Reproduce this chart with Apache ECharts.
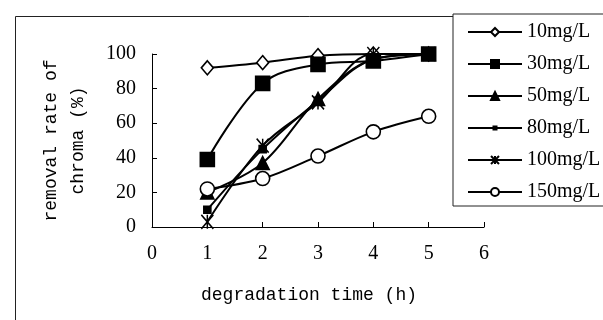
<!DOCTYPE html>
<html>
<head>
<meta charset="utf-8">
<script src="https://cdn.jsdelivr.net/npm/echarts@6/dist/echarts.min.js"></script>
<style>
  html, body { margin: 0; padding: 0; background: #fff; }
  #chart { width: 603px; height: 320px; }
</style>
</head>
<body>
<div id="chart"></div>
<script>
const hours = [1, 2, 3, 4, 5];
const seriesNames = ["10mg/L", "30mg/L", "50mg/L", "80mg/L", "100mg/L", "150mg/L"];
const rate10 = [92, 95, 99, 100, 100];
const rate30 = [39, 83, 94, 96, 100];
const rate50 = [20, 37, 74, 97, 100];
const rate80 = [10, 45, 73, 97, 100];
const rate100 = [3, 47, 72, 100, 100];
const rate150 = [22, 28, 41, 55, 64];

const STAR = "path://M0,0L10,12M10,0L0,12M5,0L5,12";
// legend icon for 80mg/L: line with a small square, sized to itemWidth x itemHeight
const SMALL_SQUARE_ICON = "path://M0,0M54,10M0,4.1h54v1.8h-54zM24.5,2.5h5v5h-5z";
const INK = "#000";

function pairs(values) {
  return hours.map((h, i) => [h, values[i]]);
}

function makeSeries(name, values, symbol, size, filled) {
  return {
    name: name,
    type: "line",
    smooth: 0.35,
    data: pairs(values),
    symbol: symbol,
    symbolSize: size,
    showAllSymbol: true,
    lineStyle: { color: INK, width: 2 },
    itemStyle: {
      color: filled ? INK : "#fff",
      borderColor: INK,
      borderWidth: 1.6,
    },
    emphasis: { disabled: true },
  };
}

const legendData = seriesNames.map((name) =>
  name === "80mg/L"
    ? { name: name, icon: SMALL_SQUARE_ICON, itemStyle: { color: INK, borderWidth: 0 } }
    : { name: name },
);

const chart = echarts.init(document.getElementById("chart"));

chart.setOption({
  animation: false,
  graphic: [
    {
      type: "rect",
      left: 13,
      top: 14,
      z: -1,
      shape: { width: 700, height: 400 },
      style: { fill: "none", stroke: "#222", lineWidth: 1 },
    },
  ],
  grid: { left: 152, right: 119, top: 54, bottom: 93 },
  legend: {
    orient: "vertical",
    left: 453,
    top: 14,
    data: legendData,
    padding: [8, 40, 4, 14],
    borderColor: "#222",
    borderWidth: 1,
    backgroundColor: "#fff",
    itemWidth: 54,
    itemHeight: 10,
    itemGap: 12,
    textStyle: {
      fontFamily: "Liberation Serif",
      fontSize: 20,
      color: INK,
      lineHeight: 20,
    },
  },
  xAxis: {
    type: "value",
    min: 0,
    max: 6,
    interval: 1,
    name: "degradation time (h)",
    nameLocation: "middle",
    nameGap: 59,
    nameTextStyle: {
      fontFamily: "Liberation Mono",
      fontSize: 18,
      color: INK,
      padding: [0, 18, 0, 0],
    },
    axisLine: { lineStyle: { color: INK, width: 1 } },
    axisTick: { inside: true, length: 5, lineStyle: { color: INK } },
    axisLabel: {
      margin: 17,
      fontFamily: "Liberation Serif",
      fontSize: 20,
      color: INK,
    },
    splitLine: { show: false },
  },
  yAxis: {
    type: "value",
    min: 0,
    max: 100,
    interval: 20,
    name: "removal rate of\nchroma (%)",
    nameLocation: "middle",
    nameGap: 60,
    nameTextStyle: {
      fontFamily: "Liberation Mono",
      fontSize: 18,
      color: INK,
      lineHeight: 27,
    },
    axisLine: { show: true, lineStyle: { color: INK, width: 1 } },
    axisTick: { show: true, inside: true, length: 5, lineStyle: { color: INK } },
    axisLabel: {
      margin: 16,
      fontFamily: "Liberation Serif",
      fontSize: 20,
      color: INK,
    },
    splitLine: { show: false },
  },
  series: [
    makeSeries(seriesNames[0], rate10, "diamond", [12, 14], false),
    makeSeries(seriesNames[1], rate30, "rect", 14, true),
    makeSeries(seriesNames[2], rate50, "triangle", 13, true),
    makeSeries(seriesNames[3], rate80, "rect", 7, true),
    makeSeries(seriesNames[4], rate100, STAR, [12, 14], true),
    makeSeries(seriesNames[5], rate150, "circle", 14, false),
  ],
});
</script>
</body>
</html>
